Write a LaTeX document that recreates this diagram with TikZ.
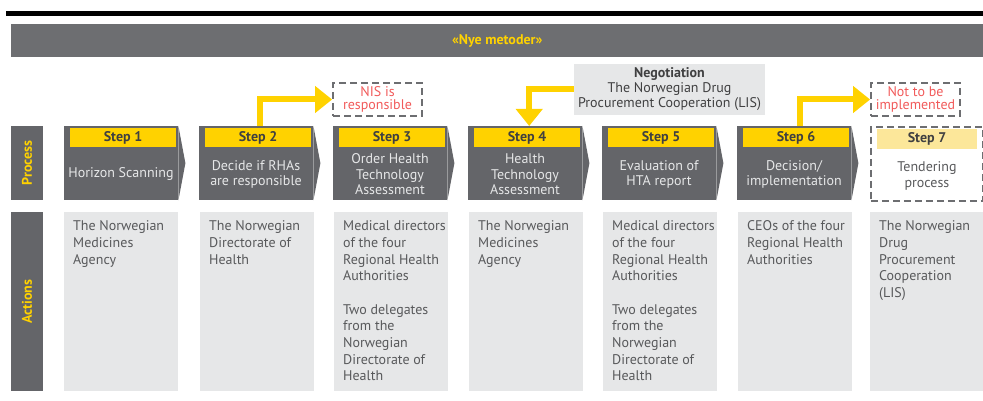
\documentclass[tikz,border=0pt]{standalone}
\usepackage{fontspec}
\setmainfont{PT Sans}
\usetikzlibrary{arrows.meta}

\definecolor{eygray}{HTML}{646569}
\definecolor{eyhead}{HTML}{6D6E71}
\definecolor{eyyellow}{HTML}{FFD200}
\definecolor{eypale}{HTML}{FCE79A}
\definecolor{eylight}{HTML}{E6E7E8}
\definecolor{eytext}{HTML}{58595B}
\definecolor{eydark}{HTML}{404041}
\definecolor{eyred}{HTML}{F15A5A}

\tikzset{
  stepbody/.style={fill=eygray, minimum width=114pt, minimum height=74pt, inner sep=0pt},
  steplab/.style={fill=eyyellow, minimum width=106pt, minimum height=19pt, inner sep=0pt,
    text=eydark, font=\fontsize{14}{15}\selectfont\bfseries},
  steptxt/.style={align=center, text=eylight, font=\fontsize{14}{15.5}\selectfont},
  actbox/.style={fill=eylight, minimum width=114pt, minimum height=179pt, inner sep=0pt},
  acttxt/.style={align=left, anchor=north west, inner sep=0pt, text=eytext,
    font=\fontsize{14}{16.7}\selectfont},
  sidelab/.style={fill=eygray, rotate=90, minimum height=32pt, inner sep=0pt, text=eyyellow,
    font=\fontsize{14}{15}\selectfont\bfseries},
  dashbox/.style={draw=eyhead, dash pattern=on 7pt off 4pt, line width=1.8pt, inner sep=0pt},
  yarrow/.style={draw=eyyellow, line width=6pt, -{Triangle[length=17pt,width=26pt]}},
}

\begin{document}
\begin{tikzpicture}[x=1pt, y=-1pt]
  \useasboundingbox (0,0) rectangle (983,401);

  % title rule and header
  \fill[black] (6,11) rectangle (983,16.5);
  \node[fill=eyhead, minimum width=972pt, minimum height=33pt, inner sep=0pt, anchor=north west,
    text=eyyellow, font=\fontsize{14}{15}\selectfont\bfseries] (nye) at (11,24) {«Nye metoder»};

  % row labels
  \node[sidelab, minimum width=74pt] (proc) at (27,163) {Process};
  \node[sidelab, minimum width=179pt] (act) at (27,301.5) {Actions};

  % process steps
  \foreach \x/\i/\txt in {64/1/{Horizon Scanning}, 199/2/{Decide if RHAs\\are responsible},
      333/3/{Order Health\\Technology\\Assessment}, 468/4/{Health\\Technology\\Assessment},
      602/5/{Evaluation of\\HTA report}, 737/6/{Decision/\\implementation}}{
    \node[stepbody, anchor=north west] (s\i) at (\x,126) {};
    \fill[eygray] (s\i.north east) -- ([xshift=7pt]s\i.east) -- (s\i.south east) -- cycle;
    \node[steplab] (l\i) at (\x+59,137.5) {Step \i};
    \node[steptxt] (t\i) at (\x+57,174.5) {\txt};
  }
  \node[dashbox, minimum width=112pt, minimum height=74pt, anchor=north west] (s7) at (870,126) {};
  \node[steplab, fill=eypale, minimum width=100pt, minimum height=20pt] (l7) at (927,139) {Step 7};
  \node[steptxt, text=eytext] (t7) at (927,176) {Tendering\\process};

  % actions
  \foreach \x/\i/\txt in {64/1/{The Norwegian\\Medicines\\Agency}, 200/2/{The Norwegian\\Directorate of\\Health},
      334/3/{Medical directors\\of the four\\Regional Health\\Authorities\\[16.7pt]Two delegates\\from the\\Norwegian\\Directorate of\\Health},
      469/4/{The Norwegian\\Medicines\\Agency},
      603/5/{Medical directors\\of the four\\Regional Health\\Authorities\\[16.7pt]Two delegates\\from the\\Norwegian\\Directorate of\\Health},
      738/6/{CEOs of the four\\Regional Health\\Authorities},
      870/7/{The Norwegian\\Drug\\Procurement\\Cooperation\\(LIS)}}{
    \node[actbox, anchor=north west] (a\i) at (\x,212) {};
    \node[acttxt] (at\i) at (\x+9,220.5) {\txt};
  }

  % side boxes
  \node[dashbox, minimum width=89pt, minimum height=33pt, align=center, text=eyred,
    font=\fontsize{14}{13.5}\selectfont] (nis) at (377.5,99.5) {NIS is\\responsible};
  \node[dashbox, minimum width=89pt, minimum height=33pt, align=center, text=eyred,
    font=\fontsize{14}{13.5}\selectfont] (notimp) at (915.5,99.5) {Not to be\\implemented};
  \node[fill=eylight, minimum width=191pt, minimum height=51pt, inner sep=0pt, align=center,
    text=eydark, font=\fontsize{14}{15}\selectfont] (neg) at (669.5,89.5)
    {\textbf{Negotiation}\\The Norwegian Drug\\Procurement Cooperation (LIS)};

  % draw edges
  \draw[yarrow] ([xshift=4pt]s2.north) |- (nis.west);
  \draw[yarrow] (neg.west) -| ([xshift=4pt]s4.north);
  \draw[yarrow] ([xshift=6pt]s6.north) |- (notimp.west);
\end{tikzpicture}
\end{document}
